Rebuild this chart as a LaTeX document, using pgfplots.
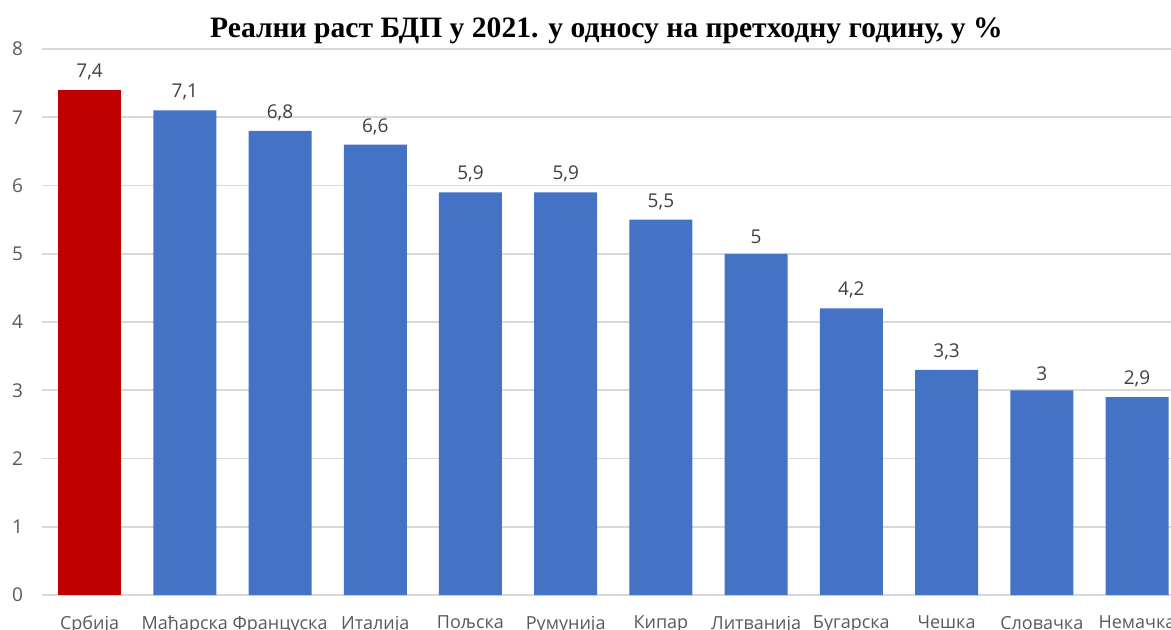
\documentclass[border=0pt]{standalone}
\usepackage{pgfplots}
\pgfplotsset{compat=1.18}
\usepackage{fontspec}
\setmainfont{Open Sans}
\newfontfamily\titlefont{Liberation Serif}

\definecolor{barblue}{HTML}{4472C4}
\definecolor{barred}{HTML}{C00000}
\definecolor{gridgray}{HTML}{D9D9D9}
\definecolor{ticktext}{HTML}{595959}
\definecolor{labeltext}{HTML}{404040}

\begin{document}
\begin{tikzpicture}
\begin{axis}[
    scale only axis,
    width=564.5pt, height=273pt,
    ymin=0, ymax=8,
    xmin=-0.5, xmax=11.357,
    ytick={0,1,...,8},
    ymajorgrids,
    grid style={gridgray, line width=0.8pt},
    axis line style={draw=none},
    major tick length=0pt,
    xtick={0,...,11},
    xticklabels={Србија, Мађарска, Француска, Италија, Пољска, Румунија, Кипар, Литванија, Бугарска, Чешка, Словачка, Немачка},
    x tick label style={font=\fontsize{9}{10}\selectfont, text=ticktext, yshift=-7pt},
    y tick label style={font=\fontsize{9.5}{10}\selectfont, text=ticktext, xshift=-6pt},
    /pgf/number format/assume math mode=true,
    title={\titlefont\bfseries\fontsize{14.8}{16}\selectfont Реални раст БДП у 2021. у односу на претходну годину, у \%},
    title style={yshift=-7pt},
    bar width=31.5pt,
    nodes near coords,
    nodes near coords style={font=\fontsize{9.5}{10}\selectfont, text=labeltext, yshift=1.5pt},
    point meta=explicit symbolic,
]
\addplot[ybar, fill=barred, draw=none] coordinates {(0,7.4) [7,4]};
\addplot[ybar, fill=barblue, draw=none] coordinates {
    (1,7.1) [7,1]
    (2,6.8) [6,8]
    (3,6.6) [6,6]
    (4,5.9) [5,9]
    (5,5.9) [5,9]
    (6,5.5) [5,5]
    (7,5.0) [5]
    (8,4.2) [4,2]
    (9,3.3) [3,3]
    (10,3.0) [3]
    (11,2.9) [2,9]
};
\end{axis}
\pgfresetboundingbox
\path[use as bounding box] (-21pt,-17pt) rectangle (564.5pt,297.5pt);
\end{tikzpicture}
\end{document}
